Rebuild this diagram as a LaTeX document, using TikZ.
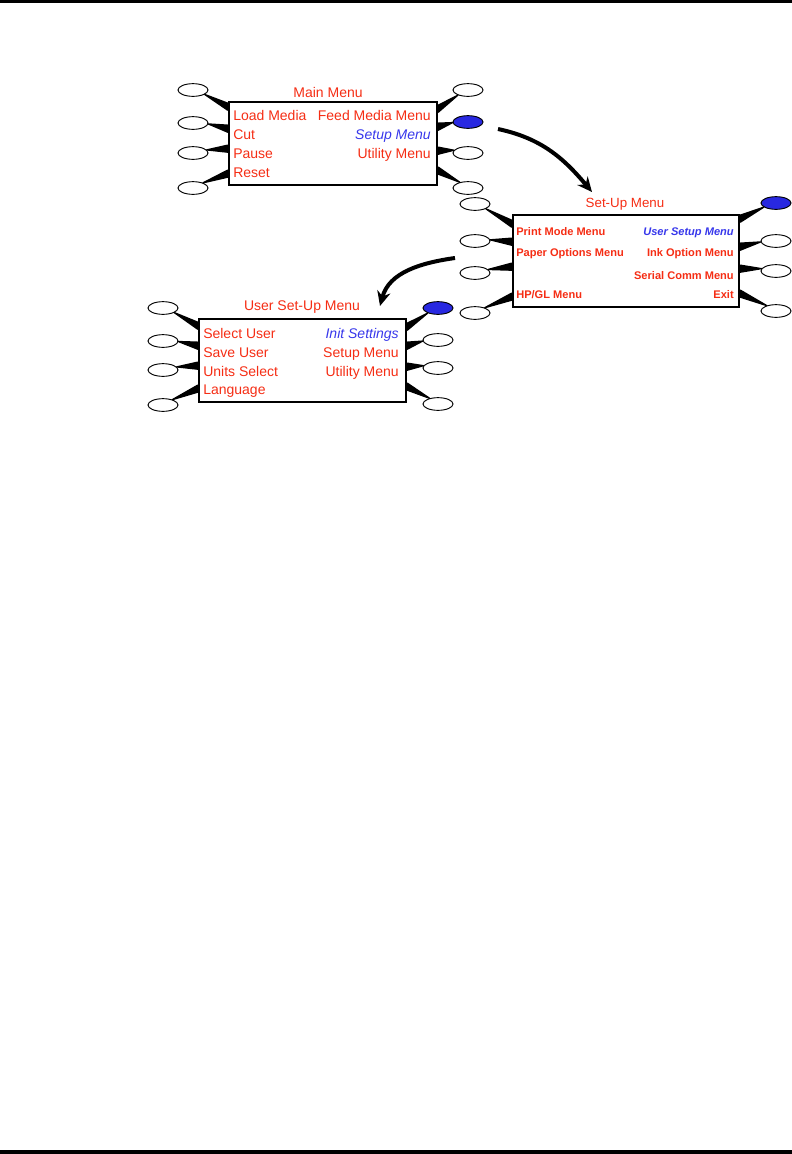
\documentclass[tikz,border=0pt]{standalone}
\usepackage{fontspec}
\setmainfont{Liberation Sans}
\usetikzlibrary{arrows.meta,calc,shapes.geometric}
\definecolor{menured}{RGB}{245,45,20}
\definecolor{menublue}{RGB}{55,55,235}
\definecolor{keyblue}{RGB}{40,40,225}
\begin{document}
\begin{tikzpicture}[
  x=0.75pt, y=-0.75pt,
  menubox/.style={draw, line width=2pt, inner sep=0pt},
  title/.style={text=menured, inner sep=0pt, font=\fontsize{10.5}{12}\selectfont},
  item/.style={text=menured, inner sep=0pt, font=\fontsize{10.5}{12}\selectfont},
  smallitem/.style={text=menured, inner sep=0pt, font=\fontsize{8.3}{10}\selectfont\bfseries},
  key/.style={draw, ellipse, line width=0.7pt, fill=white, minimum width=22.5pt, minimum height=9.5pt, inner sep=0pt},
  link/.style={fill=black, draw=black, line width=1pt, line join=round},
  bigarrow/.style={-{Stealth[length=11pt,width=10pt]}, line width=3pt}
]
\useasboundingbox (0,0) rectangle (792,1154);
\fill (0,0) rectangle (792,3);
\fill (0,1150) rectangle (792,1154);

% main menu
\node[menubox, minimum width=156pt, minimum height=62.25pt] (mm) at (333,143.5) {};
\node[title] (mmt) at (328,92) {Main Menu};
\foreach \txt/\y [count=\i] in {Load Media/117, Cut/136, Pause/155, Reset/174}
  \node[item, anchor=mid west] (mmL\i) at (233,\y) {\txt};
\node[item, anchor=mid east] (mmR1) at (431,117) {Feed Media Menu};
\node[item, anchor=mid east, text=menublue, font=\fontsize{10.5}{12}\selectfont\itshape] (mmR2) at (431,136) {Setup Menu};
\node[item, anchor=mid east] (mmR3) at (431,155) {Utility Menu};
\foreach \y [count=\i] in {90,123,153,188}
  \node[key] (mlk\i) at (193,\y) {};
\foreach \y/\f [count=\i] in {90/white,122/keyblue,153/white,188/white}
  \node[key, fill=\f] (mrk\i) at (468,\y) {};
\foreach \i/\d in {1/6,2/28,3/48,4/73}
  \fill[link] (mlk\i) -- ($(mm.north west)+(0,{\d-3.5})$) -- ($(mm.north west)+(0,{\d+3.5})$) -- cycle;
\foreach \i/\d in {1/8,2/26,3/50,4/70}
  \fill[link] (mrk\i) -- ($(mm.north east)+(0,{\d-3.5})$) -- ($(mm.north east)+(0,{\d+3.5})$) -- cycle;

% set-up menu
\node[menubox, minimum width=169.5pt, minimum height=69pt] (su) at (626,261) {};
\node[title, font=\fontsize{10}{12}\selectfont] (sut) at (625,204) {Set-Up Menu};
\node[smallitem, anchor=mid west] (suL1) at (516,232) {Print Mode Menu};
\node[smallitem, anchor=mid west] (suL2) at (516,253) {Paper Options Menu};
\node[smallitem, anchor=mid west] (suL4) at (516,295) {HP/GL Menu};
\node[smallitem, anchor=mid east, text=menublue, font=\fontsize{8.3}{10}\selectfont\bfseries\itshape] (suR1) at (734,232) {User Setup Menu};
\node[smallitem, anchor=mid east] (suR2) at (734,253) {Ink Option Menu};
\node[smallitem, anchor=mid east] (suR3) at (734,276) {Serial Comm Menu};
\node[smallitem, anchor=mid east] (suR4) at (734,295) {Exit};
\foreach \y [count=\i] in {204,241,273,313}
  \node[key] (slk\i) at (475,\y) {};
\foreach \y/\f [count=\i] in {203/keyblue,241/white,271/white,311/white}
  \node[key, fill=\f] (srk\i) at (776,\y) {};
\foreach \i/\d in {1/10,2/28,3/53,4/83}
  \fill[link] (slk\i) -- ($(su.north west)+(0,{\d-3.5})$) -- ($(su.north west)+(0,{\d+3.5})$) -- cycle;
\foreach \i/\d in {1/5,2/33,3/55,4/80}
  \fill[link] (srk\i) -- ($(su.north east)+(0,{\d-3.5})$) -- ($(su.north east)+(0,{\d+3.5})$) -- cycle;

% user set-up menu
\node[menubox, minimum width=155.25pt, minimum height=62.25pt] (us) at (302.5,360.5) {};
\node[title] (ust) at (302,307) {User Set-Up Menu};
\foreach \txt/\y [count=\i] in {Select User/335, Save User/354, Units Select/373, Language/391}
  \node[item, anchor=mid west] (usL\i) at (203,\y) {\txt};
\node[item, anchor=mid east, text=menublue, font=\fontsize{10.5}{12}\selectfont\itshape] (usR1) at (399,335) {Init Settings};
\node[item, anchor=mid east] (usR2) at (399,354) {Setup Menu};
\node[item, anchor=mid east] (usR3) at (399,373) {Utility Menu};
\foreach \y [count=\i] in {308,341,370,405}
  \node[key] (ulk\i) at (163,\y) {};
\foreach \y/\f [count=\i] in {308/keyblue,340/white,368/white,404/white}
  \node[key, fill=\f] (urk\i) at (438,\y) {};
\foreach \i/\d in {1/8,2/28,3/48,4/71}
  \fill[link] (ulk\i) -- ($(us.north west)+(0,{\d-3.5})$) -- ($(us.north west)+(0,{\d+3.5})$) -- cycle;
\foreach \i/\d in {1/9,2/28,3/49,4/69}
  \fill[link] (urk\i) -- ($(us.north east)+(0,{\d-3.5})$) -- ($(us.north east)+(0,{\d+3.5})$) -- cycle;

% arrows between menus
\coordinate (arrAs) at (498,129);
\coordinate (arrAe) at (592,192);
\coordinate (arrBs) at (455,258);
\coordinate (arrBe) at (380,306);
\draw[bigarrow] (arrAs) to[out=-12,in=130] (arrAe);
\draw[bigarrow] (arrBs) to[out=188,in=75] (arrBe);
\end{tikzpicture}
\end{document}
